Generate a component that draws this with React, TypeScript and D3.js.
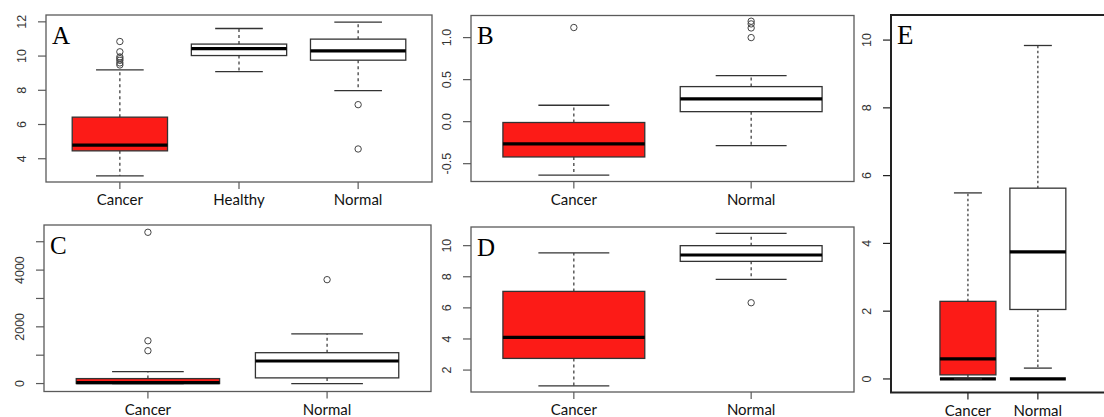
import React from "react";
import * as d3 from "d3";

// ---------- data (five-number summaries: lower whisker, Q1, median, Q3, upper whisker) ----------
const groupsA = ["Cancer", "Healthy", "Normal"];
const statsA = [
  [3.0, 4.46, 4.79, 6.43, 9.19],
  [9.09, 10.03, 10.44, 10.7, 11.61],
  [7.98, 9.76, 10.3, 10.99, 11.98],
];
const outliersA = [[10.85, 10.25, 9.95, 9.85, 9.75, 9.6, 9.48], [], [7.16, 4.57]];
const ticksA = [4, 6, 8, 10, 12];
const tickLabelsA = ["4", "6", "8", "10", "12"];

const groupsB = ["Cancer", "Normal"];
const statsB = [
  [-0.635, -0.42, -0.265, -0.01, 0.195],
  [-0.286, 0.119, 0.27, 0.417, 0.548],
];
const outliersB = [[1.12], [1.195, 1.163, 1.115, 1.0]];
const ticksB = [-0.5, 0.0, 0.5, 1.0];
const tickLabelsB = ["-0.5", "0.0", "0.5", "1.0"];

const groupsC = ["Cancer", "Normal"];
const statsC = [
  [0, 0, 30, 175, 421],
  [0, 200, 796, 1088, 1754],
];
const outliersC = [[5333, 1509, 1158], [3663]];
const ticksC = [0, 1000, 2000, 3000, 4000, 5000];
const tickLabelsC = ["0", "", "2000", "", "4000", ""];

const groupsD = ["Cancer", "Normal"];
const statsD = [
  [0.98, 2.75, 4.1, 7.06, 9.53],
  [7.83, 8.99, 9.4, 10.0, 10.79],
];
const outliersD = [[], [6.33]];
const ticksD = [2, 4, 6, 8, 10];
const tickLabelsD = ["2", "4", "6", "8", "10"];

const groupsE = ["Cancer", "Normal"];
const statsE = [
  [0, 0.12, 0.59, 2.29, 5.49],
  [0.32, 2.05, 3.75, 5.63, 9.84],
];
const zeroStatsE = [
  [0, 0, 0, 0, 0],
  [0, 0, 0, 0, 0],
];
const outliersE = [[], []];
const ticksE = [0, 2, 4, 6, 8, 10];
const tickLabelsE = ["0", "2", "4", "6", "8", "10"];

const fills = ["#FC1B17", "#FFFFFF"];

// ---------- layout ----------
type Panel = {
  letter: string;
  groups: string[];
  stats: number[][];
  extra?: number[][];
  outliers: number[][];
  ticks: number[];
  tickLabels: string[];
  left: number;
  right: number;
  top: number;
  bottom: number;
  yDomain: [number, number];
  xDomain: [number, number];
  heavy?: boolean;
  dash: string;
};

const panels: Panel[] = [
  {
    letter: "A", groups: groupsA, stats: statsA, outliers: outliersA, ticks: ticksA, tickLabels: tickLabelsA,
    left: 46, right: 432, top: 15, bottom: 182, yDomain: [2.64, 12.4], xDomain: [0.38, 3.62], dash: "3,3",
  },
  {
    letter: "B", groups: groupsB, stats: statsB, outliers: outliersB, ticks: ticksB, tickLabels: tickLabelsB,
    left: 471, right: 854, top: 15.5, bottom: 181.5, yDomain: [-0.712, 1.263], xDomain: [0.42, 2.58], dash: "3,3",
  },
  {
    letter: "C", groups: groupsC, stats: statsC, outliers: outliersC, ticks: ticksC, tickLabels: tickLabelsC,
    left: 44, right: 431, top: 225, bottom: 391.5, yDomain: [-280, 5590], xDomain: [0.42, 2.58], dash: "3,3",
  },
  {
    letter: "D", groups: groupsD, stats: statsD, outliers: outliersD, ticks: ticksD, tickLabels: tickLabelsD,
    left: 471, right: 854, top: 227, bottom: 392, yDomain: [0.59, 11.2], xDomain: [0.42, 2.58], dash: "3,3",
  },
  {
    letter: "E", groups: groupsE, stats: statsE, extra: zeroStatsE, outliers: outliersE, ticks: ticksE, tickLabels: tickLabelsE,
    left: 891, right: 1112, top: 15, bottom: 392.5, yDomain: [-0.4, 10.74], xDomain: [-0.1, 3.06], heavy: true, dash: "2.5,2.5",
  },
];

function BoxPanel({ p }: { p: Panel }) {
  const x = d3.scaleLinear().domain(p.xDomain).range([p.left, p.right]);
  const y = d3.scaleLinear().domain(p.yDomain).range([p.bottom, p.top]);
  const unit = x(2) - x(1);
  const bw = unit * 0.8;
  const cap = bw * 0.5;
  const axisColor = p.heavy ? "#222" : "#5a5a5a";
  const frameW = p.heavy ? 2 : 1.3;

  const drawBox = (s: number[], i: number, key: string, fill: string) => {
    const cx = x(i + 1);
    const [lw, q1, med, q3, uw] = s;
    return (
      <g key={key}>
        <line x1={cx} x2={cx} y1={y(q3)} y2={y(uw)} stroke="#333" strokeWidth={1.2} strokeDasharray={p.dash} />
        <line x1={cx} x2={cx} y1={y(q1)} y2={y(lw)} stroke="#333" strokeWidth={1.2} strokeDasharray={p.dash} />
        <line x1={cx - cap / 2} x2={cx + cap / 2} y1={y(uw)} y2={y(uw)} stroke="#333" strokeWidth={1.3} />
        <line x1={cx - cap / 2} x2={cx + cap / 2} y1={y(lw)} y2={y(lw)} stroke="#333" strokeWidth={1.3} />
        <rect x={cx - bw / 2} y={y(q3)} width={bw} height={Math.max(0, y(q1) - y(q3))} fill={fill} stroke="#333" strokeWidth={1.3} />
        <line x1={cx - bw / 2} x2={cx + bw / 2} y1={y(med)} y2={y(med)} stroke="#000" strokeWidth={3.2} />
      </g>
    );
  };

  return (
    <g>
      {/* frame */}
      <rect x={p.left} y={p.top} width={p.right - p.left} height={p.bottom - p.top} fill="none" stroke={axisColor} strokeWidth={frameW} />
      {/* y axis ticks */}
      {p.ticks.map((t, i) => (
        <g key={"yt" + i}>
          <line x1={p.left - 8} x2={p.left} y1={y(t)} y2={y(t)} stroke={axisColor} strokeWidth={1.2} />
          {p.tickLabels[i] !== "" && (
            <text
              transform={`translate(${p.left - 20},${y(t)}) rotate(-90)`}
              textAnchor="middle"
              fontFamily="'Liberation Sans', Arial, sans-serif"
              fontSize={12.5}
              fill="#333"
            >
              {p.tickLabels[i]}
            </text>
          )}
        </g>
      ))}
      {/* x axis ticks and labels */}
      {p.groups.map((g, i) => (
        <g key={"xt" + i}>
          <line x1={x(i + 1)} x2={x(i + 1)} y1={p.bottom} y2={p.bottom + 7} stroke={axisColor} strokeWidth={1.2} />
          <text x={x(i + 1)} y={p.bottom + 23} textAnchor="middle" fontFamily="Lato, 'Open Sans', sans-serif" fontSize={15} fill="#111">
            {g}
          </text>
        </g>
      ))}
      {/* boxes */}
      {p.extra && p.extra.map((s, i) => drawBox(s, i, "ex" + i, "#FFFFFF"))}
      {p.stats.map((s, i) => drawBox(s, i, "bx" + i, fills[i === 0 ? 0 : 1]))}
      {/* outliers */}
      {p.outliers.map((arr, i) =>
        arr.map((v, j) => (
          <circle key={`o${i}-${j}`} cx={x(i + 1)} cy={y(v)} r={3.2} fill="none" stroke="#444" strokeWidth={1} />
        ))
      )}
      {/* panel letter */}
      <text x={p.left + 6} y={p.top + 28.5} fontFamily="'Liberation Serif', 'Times New Roman', serif" fontSize={p.heavy ? 27 : 25} fill="#000">
        {p.letter}
      </text>
    </g>
  );
}

export default function App() {
  return (
    <svg width={1104} height={417} style={{ position: "absolute", left: 0, top: 0, background: "#fff" }}>
      <rect x={0} y={0} width={1104} height={417} fill="#fff" />
      {panels.map((p) => (
        <BoxPanel key={p.letter} p={p} />
      ))}
    </svg>
  );
}
